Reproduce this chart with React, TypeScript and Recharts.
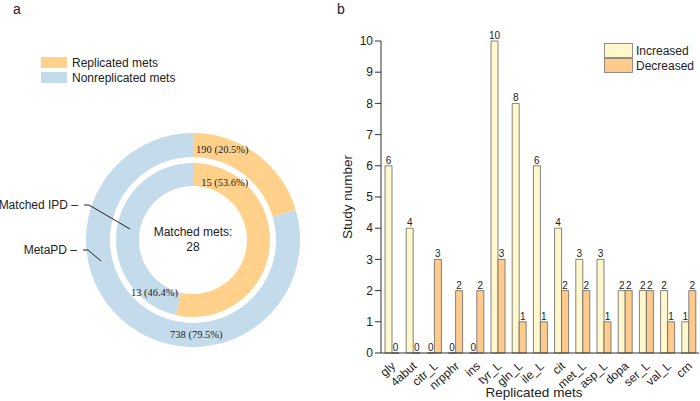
import { PieChart, Pie, Cell, BarChart, Bar, XAxis, YAxis, LabelList } from 'recharts'

// panel a: ring data
const ringNames = ['Replicated mets', 'Nonreplicated mets']
const metaPdCounts = [190, 738]
const matchedIpdCounts = [15, 13]
const matchedTotal = 28

// panel b: study counts per replicated metabolite
const mets = ['gly', '4abut', 'citr_L', 'nrpphr', 'ins', 'tyr_L', 'gln_L', 'ile_L', 'cit', 'met_L', 'asp_L', 'dopa', 'ser_L', 'val_L', 'crn']
const increased = [6, 4, 0, 0, 0, 10, 8, 6, 4, 3, 3, 2, 2, 2, 1]
const decreased = [0, 0, 3, 2, 2, 3, 1, 1, 2, 2, 1, 2, 2, 1, 2]
const yTicks = [0, 1, 2, 3, 4, 5, 6, 7, 8, 9, 10]
const seriesNames = ['Increased', 'Decreased']

const ORANGE = '#FFD18A'
const BLUE = '#C4DBEC'
const INC = '#FFF8CC'
const DEC = '#FFCB8C'
const SANS = '"Liberation Sans", Arial, sans-serif'
const SERIF = '"Liberation Serif", "Times New Roman", serif'

const outerData = ringNames.map((name, i) => ({ name, value: metaPdCounts[i] }))
const innerData = ringNames.map((name, i) => ({ name, value: matchedIpdCounts[i] }))
const barData = mets.map((m, i) => ({ met: m, Increased: increased[i], Decreased: decreased[i] }))

// where each slice label sits (degrees) - picked to match the figure
const OUTER_LABEL_ANGLE = [72, -88]
const INNER_LABEL_ANGLE = [61, -126]

const RAD = Math.PI / 180

const makeLabel = (angles: number[]) => (p: any) => {
  const r = (p.innerRadius + p.outerRadius) / 2
  const a = angles[p.index]
  const x = p.cx + r * Math.cos(a * RAD)
  const y = p.cy - r * Math.sin(a * RAD)
  return (
    <text x={x} y={y} textAnchor="middle" dominantBaseline="central" fontSize={10.5} fontFamily={SERIF} fill="#222">
      {`${p.value} (${(p.percent * 100).toFixed(1)}%)`}
    </text>
  )
}

const DonutPanel = () => (
  <div style={{ position: 'absolute', left: 0, top: 0, width: 340, height: 401 }}>
    <PieChart width={340} height={401} margin={{ top: 0, right: 0, bottom: 0, left: 0 }}>
      <Pie
        data={outerData}
        dataKey="value"
        cx={193}
        cy={240}
        innerRadius={83}
        outerRadius={107}
        startAngle={90}
        endAngle={-270}
        stroke="none"
        label={makeLabel(OUTER_LABEL_ANGLE)}
        labelLine={false}
        isAnimationActive={false}
      >
        <Cell fill={ORANGE} />
        <Cell fill={BLUE} />
      </Pie>
      <Pie
        data={innerData}
        dataKey="value"
        cx={193}
        cy={240}
        innerRadius={54}
        outerRadius={77}
        startAngle={90}
        endAngle={-270}
        stroke="none"
        label={makeLabel(INNER_LABEL_ANGLE)}
        labelLine={false}
        isAnimationActive={false}
      >
        <Cell fill={ORANGE} />
        <Cell fill={BLUE} />
      </Pie>
    </PieChart>
  </div>
)

const BarPanel = () => (
  <div style={{ position: 'absolute', left: 340, top: 0, width: 360, height: 401 }}>
    <BarChart
      width={360}
      height={401}
      data={barData}
      margin={{ top: 41, right: 1, bottom: 0, left: 0 }}
      barGap={0}
      barSize={7}
    >
      <YAxis
        width={41}
        domain={[0, 10]}
        ticks={yTicks}
        interval={0}
        tickSize={6}
        tickMargin={2}
        axisLine={{ stroke: '#333' }}
        tickLine={{ stroke: '#333' }}
        tick={{ fontSize: 12, fill: '#222', fontFamily: SANS }}
        label={{
          content: (props: any) => {
            const vb = props.viewBox
            const x = vb.x + 7
            const y = vb.y + vb.height / 2
            return (
              <text x={x} y={y} transform={`rotate(-90 ${x} ${y})`} textAnchor="middle" dominantBaseline="central" fontSize={13.5} fontFamily={SANS} fill="#222">
                Study number
              </text>
            )
          },
        }}
      />
      <XAxis
        dataKey="met"
        height={48}
        interval={0}
        tickLine={false}
        axisLine={{ stroke: '#333' }}
        tick={(props: any) => (
          <text
            x={props.x + 2}
            y={props.y + 3}
            transform={`rotate(-42 ${props.x + 2} ${props.y + 3})`}
            textAnchor="end"
            dominantBaseline="central"
            fontSize={12}
            fontFamily={SANS}
            fill="#222"
          >
            {props.payload.value}
          </text>
        )}
        label={{
          content: (props: any) => {
            const vb = props.viewBox
            return (
              <text x={vb.x + vb.width / 2 - 6} y={vb.y + 39} textAnchor="middle" dominantBaseline="central" fontSize={13.5} fontFamily={SANS} fill="#222">
                Replicated mets
              </text>
            )
          },
        }}
      />
      <Bar dataKey="Increased" fill={INC} stroke="#666" strokeWidth={0.8} minPointSize={0.01} isAnimationActive={false}>
        <LabelList dataKey="Increased" position="top" offset={2} fontSize={10} fill="#222" fontFamily={SANS} />
      </Bar>
      <Bar dataKey="Decreased" fill={DEC} stroke="#666" strokeWidth={0.8} minPointSize={0.01} isAnimationActive={false}>
        <LabelList dataKey="Decreased" position="top" offset={2} fontSize={10} fill="#222" fontFamily={SANS} />
      </Bar>
    </BarChart>
  </div>
)

// legends, panel letters, centre text and leader lines
const Overlay = () => (
  <svg width={700} height={401} style={{ position: 'absolute', left: 0, top: 0, pointerEvents: 'none' }} fontFamily={SANS}>
    <text x={13} y={14} fontSize={14} fill="#222">a</text>
    <text x={337} y={14} fontSize={14} fill="#222">b</text>
    {ringNames.map((n, i) => (
      <g key={n}>
        <rect x={41} y={57 + i * 15} width={26} height={11} fill={i === 0 ? ORANGE : BLUE} />
        <text x={72} y={63 + i * 15} fontSize={12} fill="#222" dominantBaseline="central">{n}</text>
      </g>
    ))}
    <text x={193} y={232} fontSize={12} fill="#222" textAnchor="middle" dominantBaseline="central">Matched mets:</text>
    <text x={193} y={247} fontSize={12} fill="#222" textAnchor="middle" dominantBaseline="central">{matchedTotal}</text>
    <text x={78} y={205} fontSize={12} fill="#222" textAnchor="end" dominantBaseline="central">Matched IPD –</text>
    <polyline points="84,205 89,205 130,229" fill="none" stroke="#222" strokeWidth={1} />
    <text x={77} y={250} fontSize={12} fill="#222" textAnchor="end" dominantBaseline="central">MetaPD –</text>
    <polyline points="83,250 88,250 101,261" fill="none" stroke="#222" strokeWidth={1} />
    {seriesNames.map((n, i) => (
      <g key={n}>
        <rect x={604.5} y={43.5 + i * 15} width={28} height={14} fill={i === 0 ? INC : DEC} stroke="#777" strokeWidth={0.8} />
        <text x={636} y={50.5 + i * 15} fontSize={12} fill="#222" dominantBaseline="central">{n}</text>
      </g>
    ))}
  </svg>
)

export default function App() {
  return (
    <div style={{ position: 'absolute', left: 0, top: 0, width: 700, height: 401, background: '#fff', overflow: 'hidden' }}>
      <DonutPanel />
      <BarPanel />
      <Overlay />
    </div>
  )
}
